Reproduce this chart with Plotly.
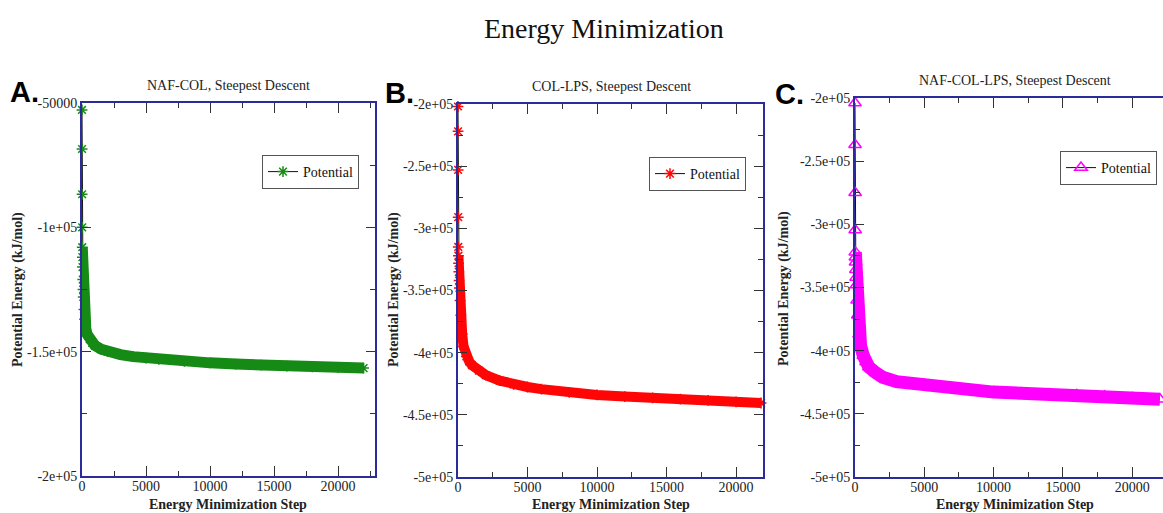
import plotly.graph_objects as go

W, H = 1163, 513

# ---------------- data ----------------
steps_a = [0, 5, 10, 15, 20, 30, 40, 60, 80, 100, 150, 200, 300, 400, 600, 800, 1000,
           1500, 2000, 3000, 4000, 5000, 6000, 8000, 10000, 12000, 14000, 16000, 18000, 20000, 22000]
energy_a = [-52800, -68500, -86700, -100000, -108000, -112000, -116000, -121000, -125000, -128000,
            -133000, -137000, -141000, -143000, -145000, -146500, -147500, -149000, -150000, -151200,
            -152000, -152600, -153100, -153900, -154500, -155000, -155400, -155800, -156100, -156400, -156600]

steps_b = [0, 5, 10, 15, 20, 30, 40, 60, 80, 100, 150, 200, 300, 400, 600, 800, 1000,
           1500, 2000, 3000, 4000, 5000, 6000, 8000, 10000, 12000, 14000, 16000, 18000, 20000, 21800]
energy_b = [-202000, -222000, -253000, -291000, -315000, -322000, -328000, -335000, -342000, -348000,
            -358000, -370000, -385000, -395000, -403000, -407000, -410000, -414500, -418000, -422500,
            -425500, -427600, -429300, -432000, -434000, -435300, -436300, -437300, -438400, -439600, -440500]

steps_c = [0, 5, 10, 15, 20, 30, 40, 60, 80, 100, 150, 200, 300, 400, 600, 800, 1000,
           1500, 2000, 3000, 4000, 5000, 6000, 8000, 10000, 12000, 14000, 16000, 18000, 20000, 22000]
energy_c = [-204000, -237000, -275000, -304500, -322000, -326000, -330000, -336000, -342000, -348000,
            -360000, -372000, -387000, -396000, -404000, -409000, -413000, -417500, -421000, -424500,
            -426000, -427200, -428300, -430700, -432800, -433700, -434400, -435100, -436000, -437500, -438500]

x_ticks = [0, 5000, 10000, 15000, 20000]
x_ticktext = ["0", "5000", "10000", "15000", "20000"]
ya_ticks = [-50000, -100000, -150000, -200000]
ya_ticktext = ["-50000", "-1e+05", "-1.5e+05", "-2e+05"]
ybc_ticks = [-200000, -250000, -300000, -350000, -400000, -450000, -500000]
ybc_ticktext = ["-2e+05", "-2.5e+05", "-3e+05", "-3.5e+05", "-4e+05", "-4.5e+05", "-5e+05"]

panel_titles = ["NAF-COL, Steepest Descent", "COL-LPS, Steepest Descent", "NAF-COL-LPS, Steepest Descent"]
panel_letters = ["A.", "B.", "C."]
series_name = "Potential"
main_title = "Energy Minimization"
x_title = "Energy Minimization Step"
y_title = "Potential Energy (kJ/mol)"

# ---------------- styling ----------------
SERIF = "Liberation Serif"
AXCOL = "#2b2b9c"
colors = ["#158a15", "#ff0505", "#ff00ff"]
symbols = ["asterisk-open", "asterisk-open", "triangle-up-open"]
band_w = [11, 10, 13]
band_start = [4, 5, 4]

def px(x):
    return x / W

def py(y):
    return 1 - y / H

fig = go.Figure()

series = [(steps_a, energy_a), (steps_b, energy_b), (steps_c, energy_c)]
for i, (xs, ys) in enumerate(series):
    ax = "" if i == 0 else str(i + 1)
    fig.add_trace(go.Scatter(
        x=xs, y=ys, mode="lines+markers", name=series_name,
        line=dict(color="#111111", width=1),
        marker=dict(symbol=symbols[i], size=9 if i < 2 else 11,
                    color=colors[i], line=dict(color=colors[i], width=1.5)),
        xaxis="x" + ax, yaxis="y" + ax, cliponaxis=False,
        legend="legend" + ax, showlegend=True,
    ))
    k = band_start[i]
    fig.add_trace(go.Scatter(
        x=xs[k:], y=ys[k:], mode="lines",
        line=dict(color=colors[i], width=band_w[i]),
        xaxis="x" + ax, yaxis="y" + ax, cliponaxis=False, showlegend=False,
        hoverinfo="skip",
    ))

tickfont = dict(family=SERIF, size=14, color="#222222")

def xaxis(domain, rng, anchor):
    return dict(domain=domain, range=rng, anchor=anchor, automargin=False,
                showline=True, linecolor=AXCOL, linewidth=2, mirror="allticks",
                ticks="inside", ticklen=10, tickwidth=1, tickcolor="#333333",
                tickvals=x_ticks, ticktext=x_ticktext, tickfont=tickfont,
                ticklabelstandoff=-4,
                minor=dict(ticks="inside", ticklen=5, tickwidth=1, tickcolor="#333333", dtick=2500,
                           tick0=0, showgrid=False),
                showgrid=False, zeroline=False, fixedrange=True)

def yaxis(domain, rng, anchor, tv, tt, mirror):
    return dict(domain=domain, range=rng, anchor=anchor, automargin=False,
                showline=True, linecolor=AXCOL, linewidth=2, mirror=mirror,
                ticks="inside", ticklen=9, tickwidth=1, tickcolor="#333333",
                tickvals=tv, ticktext=tt, tickfont=tickfont,
                minor=dict(ticks="inside", ticklen=5, tickwidth=1, tickcolor="#333333", dtick=25000,
                           tick0=0, showgrid=False),
                showgrid=False, zeroline=False, fixedrange=True)

fig.update_layout(
    template="none",
    width=W, height=H, autosize=False,
    margin=dict(l=0, r=0, t=0, b=0, pad=0, autoexpand=False),
    paper_bgcolor="white", plot_bgcolor="white",
    xaxis=xaxis([px(82), px(375)], [0, 22890], "y"),
    yaxis=yaxis([py(476), py(103)], [-200000, -50000], "x", ya_ticks, ya_ticktext, "allticks"),
    xaxis2=xaxis([px(458), px(763)], [0, 21940], "y2"),
    yaxis2=yaxis([py(477), py(104)], [-500000, -200000], "x2", ybc_ticks, ybc_ticktext, "allticks"),
    xaxis3=xaxis([px(855), 1.0], [0, 22220], "y3"),
    yaxis3=yaxis([py(477), py(98)], [-500000, -200000], "x3", ybc_ticks, ybc_ticktext, False),
)

leg_common = dict(font=dict(family=SERIF, size=14, color="#111111"), bordercolor="#555555",
                  borderwidth=1, bgcolor="white", xanchor="right", yanchor="top", itemwidth=30,
                  itemclick=False, itemdoubleclick=False)
fig.update_layout(
    legend=dict(x=px(359), y=py(155), **leg_common),
    legend2=dict(x=px(746), y=py(157), **leg_common),
    legend3=dict(x=px(1157), y=py(151), **leg_common),
)

ann = []
ann.append(dict(text=main_title, x=px(604), y=py(28), font=dict(family=SERIF, size=28, color="#111111")))
title_pos = [(228, 85), (611, 86), (1015, 80)]
for t, (xx, yy) in zip(panel_titles, title_pos):
    ann.append(dict(text=t, x=px(xx), y=py(yy), font=dict(family=SERIF, size=14, color="#222222")))
letter_pos = [(24, 92), (399, 93), (789, 94)]
for t, (xx, yy) in zip(panel_letters, letter_pos):
    ann.append(dict(text="<b>" + t + "</b>", x=px(xx), y=py(yy),
                    font=dict(family="Liberation Sans", size=29, color="#000000")))
xt_pos = [228, 611, 1015]
for xx in xt_pos:
    ann.append(dict(text="<b>" + x_title + "</b>", x=px(xx), y=py(504),
                    font=dict(family=SERIF, size=14, color="#222222")))
yt_pos = [(18, 290), (394, 290), (784, 288)]
for xx, yy in yt_pos:
    ann.append(dict(text="<b>" + y_title + "</b>", x=px(xx), y=py(yy), textangle=-90,
                    font=dict(family=SERIF, size=14, color="#222222")))
for a in ann:
    a.update(xref="paper", yref="paper", showarrow=False, xanchor="center", yanchor="middle")
fig.update_layout(annotations=ann)

fig.write_html("out.html", config={"displayModeBar": False},
               post_script="document.body.style.margin='0px';document.body.style.overflow='hidden';")
